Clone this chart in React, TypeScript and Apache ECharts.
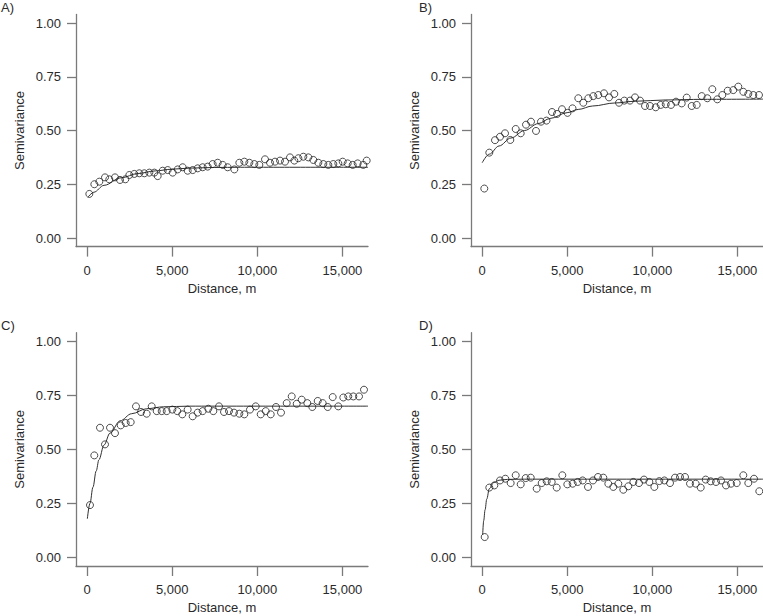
import React, { useEffect, useRef } from "react";
import * as echarts from "echarts";

// ---------- data ----------
const xTickValues = [0, 5000, 10000, 15000];
const yTickValues = [0, 0.25, 0.5, 0.75, 1];
const panelLabels = ["A)", "B)", "C)", "D)"];

const distA = [137, 431, 724, 1057, 1311, 1644, 1938, 2251, 2486, 2779, 3073, 3366, 3660, 3954, 4150, 4443, 4737, 5031, 5324, 5618, 5911, 6205, 6499, 6792, 7086, 7379, 7673, 7967, 8260, 8652, 8945, 9239, 9532, 9826, 10119, 10452, 10746, 11039, 11333, 11627, 11920, 12175, 12410, 12703, 12997, 13290, 13584, 13877, 14171, 14465, 14758, 15013, 15306, 15600, 15894, 16226, 16422];
const semiA = [0.205, 0.25, 0.262, 0.282, 0.273, 0.282, 0.27, 0.273, 0.293, 0.298, 0.301, 0.301, 0.304, 0.304, 0.288, 0.313, 0.316, 0.304, 0.319, 0.329, 0.313, 0.316, 0.324, 0.329, 0.332, 0.344, 0.35, 0.34, 0.329, 0.319, 0.35, 0.355, 0.35, 0.344, 0.34, 0.366, 0.35, 0.355, 0.36, 0.355, 0.375, 0.36, 0.371, 0.378, 0.375, 0.363, 0.35, 0.344, 0.34, 0.344, 0.347, 0.355, 0.347, 0.34, 0.347, 0.34, 0.36];
const fitDistA = [60, 400, 1000, 2000, 3000, 4000, 5000, 6000, 7500, 9000, 16500];
const fitSemiA = [0.19, 0.213, 0.245, 0.28, 0.3, 0.312, 0.32, 0.325, 0.328, 0.329, 0.329];

const distB = [135, 429, 763, 1057, 1351, 1662, 1979, 2272, 2584, 2877, 3171, 3465, 3787, 4110, 4404, 4698, 5021, 5314, 5655, 5948, 6242, 6536, 6829, 7164, 7458, 7769, 8045, 8356, 8691, 8984, 9278, 9572, 9865, 10200, 10494, 10787, 11098, 11392, 11727, 12020, 12314, 12607, 12901, 13230, 13523, 13817, 14110, 14427, 14756, 15050, 15344, 15637, 15931, 16265];
const semiB = [0.23, 0.397, 0.455, 0.471, 0.487, 0.456, 0.507, 0.487, 0.527, 0.541, 0.498, 0.541, 0.546, 0.586, 0.577, 0.599, 0.582, 0.603, 0.65, 0.629, 0.65, 0.66, 0.665, 0.673, 0.654, 0.67, 0.629, 0.639, 0.639, 0.654, 0.639, 0.614, 0.614, 0.608, 0.619, 0.622, 0.619, 0.634, 0.626, 0.653, 0.614, 0.619, 0.66, 0.65, 0.692, 0.645, 0.665, 0.685, 0.688, 0.704, 0.68, 0.67, 0.665, 0.665];
const fitDistB = [10, 430, 1000, 1700, 2500, 3300, 4000, 5000, 5650, 6500, 7800, 9000, 10750, 13000, 16500];
const fitSemiB = [0.35, 0.39, 0.428, 0.465, 0.5, 0.532, 0.556, 0.583, 0.598, 0.614, 0.628, 0.636, 0.642, 0.645, 0.646];

const distC = [176, 429, 763, 1057, 1351, 1644, 1979, 2272, 2566, 2877, 3171, 3505, 3799, 4093, 4386, 4680, 5010, 5303, 5597, 5910, 6204, 6498, 6792, 7125, 7418, 7751, 8045, 8338, 8632, 8945, 9238, 9571, 9906, 10200, 10494, 10787, 11098, 11392, 11727, 12020, 12314, 12607, 12936, 13230, 13547, 13840, 14134, 14427, 14756, 15050, 15343, 15637, 15972, 16265];
const semiC = [0.242, 0.472, 0.6, 0.523, 0.6, 0.575, 0.611, 0.622, 0.626, 0.699, 0.673, 0.665, 0.699, 0.677, 0.677, 0.677, 0.684, 0.677, 0.662, 0.684, 0.653, 0.67, 0.677, 0.688, 0.677, 0.699, 0.673, 0.677, 0.67, 0.665, 0.662, 0.684, 0.699, 0.662, 0.677, 0.662, 0.696, 0.67, 0.714, 0.745, 0.711, 0.73, 0.714, 0.696, 0.724, 0.714, 0.696, 0.742, 0.699, 0.74, 0.745, 0.745, 0.745, 0.776];
const fitDistC = [20, 176, 350, 540, 700, 1000, 1350, 1940, 2620, 3500, 4500, 6000, 16500];
const fitSemiC = [0.179, 0.25, 0.325, 0.4, 0.452, 0.52, 0.575, 0.632, 0.665, 0.688, 0.697, 0.7, 0.7];

const distD = [158, 429, 723, 1057, 1370, 1683, 1979, 2272, 2566, 2860, 3212, 3505, 3799, 4093, 4386, 4716, 5010, 5324, 5618, 5912, 6224, 6518, 6811, 7124, 7418, 7711, 8005, 8298, 8592, 8886, 9219, 9513, 9826, 10120, 10413, 10707, 11040, 11333, 11627, 11920, 12214, 12548, 12842, 13135, 13429, 13740, 14034, 14327, 14621, 14956, 15344, 15637, 15972, 16283];
const semiD = [0.094, 0.323, 0.333, 0.356, 0.364, 0.344, 0.38, 0.338, 0.367, 0.369, 0.318, 0.344, 0.352, 0.349, 0.323, 0.38, 0.338, 0.341, 0.349, 0.356, 0.326, 0.356, 0.372, 0.369, 0.341, 0.326, 0.341, 0.313, 0.329, 0.349, 0.344, 0.36, 0.349, 0.326, 0.353, 0.356, 0.344, 0.369, 0.372, 0.372, 0.341, 0.341, 0.323, 0.36, 0.352, 0.349, 0.356, 0.333, 0.341, 0.344, 0.38, 0.344, 0.364, 0.306];
const fitDistD = [40, 100, 180, 280, 430, 700, 1000, 1500, 2500, 16500];
const fitSemiD = [0.105, 0.17, 0.22, 0.27, 0.318, 0.347, 0.357, 0.361, 0.362, 0.362];

const panels = [
  { dist: distA, semi: semiA, fitDist: fitDistA, fitSemi: fitSemiA },
  { dist: distB, semi: semiB, fitDist: fitDistB, fitSemi: fitSemiB },
  { dist: distC, semi: semiC, fitDist: fitDistC, fitSemi: fitSemiC },
  { dist: distD, semi: semiD, fitDist: fitDistD, fitSemi: fitSemiD },
];

// ---------- layout / style ----------
const FONT = "'Liberation Sans', Arial, Helvetica, sans-serif";
const TEXT = "#2a2a2a";
const AXIS = "#7a7a7a";
const gridPos = [
  { left: 76, top: 14.4, width: 292, height: 232.2 },
  { left: 471, top: 14.4, width: 292, height: 232.2 },
  { left: 76, top: 332.7, width: 292, height: 233.3 },
  { left: 471, top: 332.7, width: 292, height: 233.3 },
];
const labelPos = [
  { left: 1, top: 1 },
  { left: 419, top: 1 },
  { left: 1, top: 319 },
  { left: 419, top: 319 },
];

const zip = (a: number[], b: number[]) => a.map((v, i) => [v, b[i]]);

export default function App() {
  const ref = useRef<HTMLDivElement>(null);
  useEffect(() => {
    if (!ref.current) return;
    const chart = echarts.init(ref.current, undefined, { renderer: "svg" });
    const axisLineStyle = { color: AXIS, width: 1.3 };
    const option: any = {
      animation: false,
      backgroundColor: "#ffffff",
      title: panelLabels.map((t, i) => ({
        text: t,
        left: labelPos[i].left,
        top: labelPos[i].top,
        padding: 0,
        textStyle: { fontFamily: FONT, fontSize: 13, fontWeight: "normal", color: TEXT },
      })),
      grid: gridPos.map((g) => ({ ...g, containLabel: false })),
      xAxis: panels.map((_, i) => ({
        type: "value",
        gridIndex: i,
        min: -646,
        max: 16500,
        name: "Distance, m",
        nameLocation: "middle",
        nameGap: 35,
        nameTextStyle: { fontFamily: FONT, fontSize: 13, color: TEXT },
        axisLine: { show: true, onZero: false, lineStyle: axisLineStyle },
        axisTick: { show: true, length: 10, customValues: xTickValues, lineStyle: axisLineStyle },
        axisLabel: {
          customValues: xTickValues,
          margin: 17,
          fontFamily: FONT,
          fontSize: 13,
          color: TEXT,
          formatter: (v: number) => v.toLocaleString("en-US"),
        },
        splitLine: { show: false },
      })),
      yAxis: panels.map((_, i) => ({
        type: "value",
        gridIndex: i,
        min: -0.04,
        max: 1.04,
        name: "Semivariance",
        nameLocation: "middle",
        nameGap: 50,
        nameTextStyle: { fontFamily: FONT, fontSize: 13, color: TEXT },
        axisLine: { show: true, onZero: false, lineStyle: axisLineStyle },
        axisTick: { show: true, length: 9, customValues: yTickValues, lineStyle: axisLineStyle },
        axisLabel: {
          customValues: yTickValues,
          margin: 15,
          fontFamily: FONT,
          fontSize: 13,
          color: TEXT,
          formatter: (v: number) => v.toFixed(2),
        },
        splitLine: { show: false },
      })),
      series: panels.flatMap((p, i) => [
        {
          type: "line",
          xAxisIndex: i,
          yAxisIndex: i,
          data: zip(p.fitDist, p.fitSemi),
          showSymbol: false,
          smooth: 0.35,
          smoothMonotone: "x",
          lineStyle: { color: "#303030", width: 1 },
          z: 2,
        },
        {
          type: "scatter",
          xAxisIndex: i,
          yAxisIndex: i,
          data: zip(p.dist, p.semi),
          symbol: "circle",
          symbolSize: 7,
          itemStyle: { color: "rgba(0,0,0,0)", borderColor: "#222222", borderWidth: 1 },
          z: 3,
        },
      ]),
    };
    chart.setOption(option);
    return () => chart.dispose();
  }, []);
  return (
    <div
      ref={ref}
      style={{ position: "fixed", left: 0, top: 0, width: 763, height: 616, background: "#fff" }}
    />
  );
}
